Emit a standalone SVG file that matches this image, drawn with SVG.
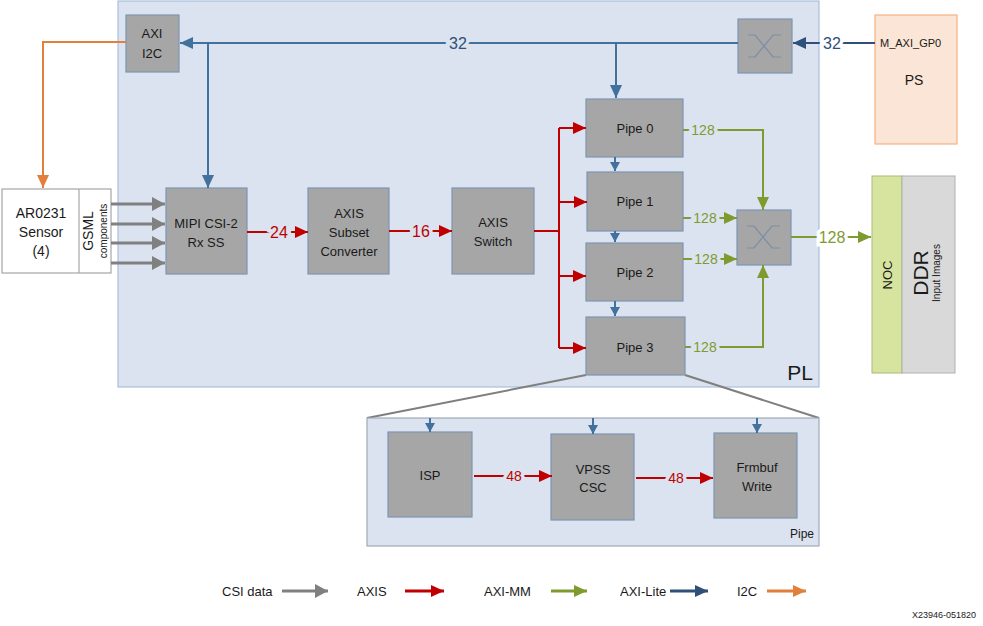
<svg xmlns="http://www.w3.org/2000/svg" width="983" height="626" viewBox="0 0 983 626">
<defs>
<style>
text{font-family:"Liberation Sans",Arial,sans-serif;fill:#1a1a1a}
.blk{fill:#a6a6a6;stroke:#7d95b3;stroke-width:1.2}
.t{font-size:13px;text-anchor:middle}
.lbl{text-anchor:middle;dominant-baseline:central;paint-order:stroke;stroke-width:7px}
.onpl{stroke:#dae3ef}
.onw{stroke:#ffffff}
.blue{stroke:#41719c;stroke-width:2;fill:none}
.red{stroke:#c00000;stroke-width:2;fill:none}
.green{stroke:#7f9b2f;stroke-width:2;fill:none}
.orange{stroke:#e0803a;stroke-width:2;fill:none}
.gray{stroke:#808080;stroke-width:3;fill:none}
.xs{stroke:#7d8ea6;stroke-width:1.2;fill:none}
</style>
<marker id="ab" markerUnits="userSpaceOnUse" markerWidth="14" markerHeight="12" refX="13" refY="6" orient="auto"><path d="M0,0 L13,6 L0,12 z" fill="#41719c"/></marker>
<marker id="abs" markerUnits="userSpaceOnUse" markerWidth="10" markerHeight="10" refX="9" refY="5" orient="auto"><path d="M0,0 L9,5 L0,10 z" fill="#41719c"/></marker>
<marker id="abd" markerUnits="userSpaceOnUse" markerWidth="14" markerHeight="12" refX="13" refY="6" orient="auto"><path d="M0,0 L13,6 L0,12 z" fill="#2f5078"/></marker>
<marker id="ar" markerUnits="userSpaceOnUse" markerWidth="14" markerHeight="12" refX="13" refY="6" orient="auto"><path d="M0,0 L13,6 L0,12 z" fill="#c00000"/></marker>
<marker id="ag" markerUnits="userSpaceOnUse" markerWidth="14" markerHeight="12" refX="13" refY="6" orient="auto"><path d="M0,0 L13,6 L0,12 z" fill="#7f9b2f"/></marker>
<marker id="ao" markerUnits="userSpaceOnUse" markerWidth="14" markerHeight="12" refX="13" refY="6" orient="auto"><path d="M0,0 L13,6 L0,12 z" fill="#e0803a"/></marker>
<marker id="agr" markerUnits="userSpaceOnUse" markerWidth="14" markerHeight="14" refX="13" refY="7" orient="auto"><path d="M0,0 L13,7 L0,14 z" fill="#808080"/></marker>
</defs>
<rect width="983" height="626" fill="#ffffff"/>

<g id="pl">
<rect x="118" y="1" width="701" height="386" fill="#dae3ef" stroke="#a9c0da" stroke-width="1.2"/>
<text x="800" y="380" style="font-size:21px;text-anchor:middle">PL</text>
</g>

<g id="zoom-lines">
<path d="M586,375 L367,418 M685,375 L819,418" stroke="#7f7f7f" stroke-width="2" fill="none"/>
</g>

<g id="pipe-detail">
<rect x="367" y="418" width="452" height="128" fill="#dae3ef" stroke="#9eaab8" stroke-width="1.2"/>
<text x="814" y="538" style="font-size:12px;text-anchor:end">Pipe</text>
</g>

<g id="ps">
<rect x="875" y="15" width="82" height="129" fill="#fbe5d6" stroke="#f4b183" stroke-width="1.2"/>
<text x="880" y="47" style="font-size:11px">M_AXI_GP0</text>
<text x="914" y="85" style="font-size:14px;text-anchor:middle">PS</text>
</g>

<g id="noc">
<rect x="872" y="176" width="30" height="197" fill="#d7e4a0" stroke="#a9b97a" stroke-width="1"/>
<text transform="translate(892,275) rotate(-90)" style="font-size:13px;text-anchor:middle">NOC</text>
</g>
<g id="ddr">
<rect x="902" y="176" width="53" height="197" fill="#d9d9d9" stroke="#b0b0b0" stroke-width="1"/>
<text transform="translate(928,273) rotate(-90)" style="font-size:21px;text-anchor:middle">DDR</text>
<text transform="translate(940,273) rotate(-90)" style="font-size:10px;text-anchor:middle">Input Images</text>
</g>

<g id="sensor">
<rect x="2" y="189" width="109" height="84" fill="#ffffff" stroke="#a6a6a6" stroke-width="1.2"/>
<line x1="79" y1="189" x2="79" y2="273" stroke="#a6a6a6" stroke-width="1.2"/>
<text x="41" y="218" class="t" style="font-size:14px">AR0231</text>
<text x="41" y="237" class="t" style="font-size:14px">Sensor</text>
<text x="41" y="256" class="t" style="font-size:14px">(4)</text>
<text transform="translate(93,231) rotate(-90)" style="font-size:14px;text-anchor:middle">GSML</text>
<text transform="translate(107,231) rotate(-90)" style="font-size:10px;text-anchor:middle">components</text>
</g>

<g id="axi-i2c">
<rect x="126" y="15" width="53" height="57" class="blk"/>
<text x="152" y="38" class="t">AXI</text>
<text x="152" y="58" class="t">I2C</text>
</g>

<g id="interconnect-top">
<rect x="738" y="19" width="54" height="54" class="blk"/>
<path d="M748,35 H755 L773,57 H781 M748,57 H755 L773,35 H781" class="xs"/>
</g>

<g id="interconnect-mm">
<rect x="737" y="210" width="54" height="55" class="blk"/>
<path d="M747,226 H754 L772,248 H780 M747,248 H754 L772,226 H780" class="xs"/>
</g>

<g id="mipi">
<rect x="166" y="188" width="81" height="86" class="blk"/>
<text x="206" y="228" class="t">MIPI CSI-2</text>
<text x="206" y="247" class="t">Rx SS</text>
</g>
<g id="subset">
<rect x="308" y="188" width="81" height="86" class="blk"/>
<text x="349" y="218" class="t">AXIS</text>
<text x="349" y="237" class="t">Subset</text>
<text x="349" y="256" class="t">Converter</text>
</g>
<g id="switch">
<rect x="452" y="188" width="82" height="86" class="blk"/>
<text x="493" y="227" class="t">AXIS</text>
<text x="493" y="246" class="t">Switch</text>
</g>

<g id="pipe0"><rect x="586" y="99" width="97" height="58" class="blk"/><text x="635" y="133" class="t">Pipe 0</text></g>
<g id="pipe1"><rect x="587" y="172" width="96" height="59" class="blk"/><text x="635" y="206" class="t">Pipe 1</text></g>
<g id="pipe2"><rect x="586" y="243" width="97" height="58" class="blk"/><text x="635" y="277" class="t">Pipe 2</text></g>
<g id="pipe3"><rect x="586" y="317" width="99" height="58" class="blk"/><text x="635" y="352" class="t">Pipe 3</text></g>

<g id="isp"><rect x="388" y="432" width="84" height="85" class="blk"/><text x="430" y="480" class="t">ISP</text></g>
<g id="vpss"><rect x="551" y="434" width="83" height="86" class="blk"/><text x="593" y="474" class="t">VPSS</text><text x="593" y="492" class="t">CSC</text></g>
<g id="frmbuf"><rect x="714" y="433" width="83" height="85" class="blk"/><text x="757" y="472" class="t">Frmbuf</text><text x="757" y="491" class="t">Write</text></g>

<g id="connectors">
<!-- AXI-Lite -->
<path d="M875,43 H793" class="blue" style="stroke:#2f5078" marker-end="url(#abd)"/>
<text x="832" y="43" class="lbl onw" style="font-size:16px;fill:#2f5078">32</text>
<path d="M738,43 H180" class="blue" marker-end="url(#ab)"/>
<text x="458" y="43" class="lbl onpl" style="font-size:16px;fill:#2f5078">32</text>
<path d="M208,43 V188" class="blue" marker-end="url(#ab)"/>
<path d="M616,43 V98" class="blue" marker-end="url(#ab)"/>
<path d="M615,157 V171" class="blue" marker-end="url(#abs)"/>
<path d="M615,231 V242" class="blue" marker-end="url(#abs)"/>
<path d="M615,301 V316" class="blue" marker-end="url(#abs)"/>
<path d="M430,418 V432" class="blue" marker-end="url(#abs)"/>
<path d="M593,418 V434" class="blue" marker-end="url(#abs)"/>
<path d="M757,418 V433" class="blue" marker-end="url(#abs)"/>
<!-- I2C -->
<path d="M126,42 H43 V188" class="orange" marker-end="url(#ao)"/>
<!-- CSI data -->
<path d="M111,204 H165" class="gray" marker-end="url(#agr)"/>
<path d="M111,224 H165" class="gray" marker-end="url(#agr)"/>
<path d="M111,243 H165" class="gray" marker-end="url(#agr)"/>
<path d="M111,263 H165" class="gray" marker-end="url(#agr)"/>
<!-- AXIS -->
<path d="M247,232 H308" class="red" marker-end="url(#ar)"/>
<text x="279" y="232" class="lbl onpl" style="font-size:16px;fill:#c00000">24</text>
<path d="M389,231 H452" class="red" marker-end="url(#ar)"/>
<text x="421" y="231" class="lbl onpl" style="font-size:16px;fill:#c00000">16</text>
<path d="M534,231 H559" class="red"/>
<path d="M559,128 V348" class="red"/>
<path d="M559,128 H586" class="red" marker-end="url(#ar)"/>
<path d="M559,202 H587" class="red" marker-end="url(#ar)"/>
<path d="M559,276 H586" class="red" marker-end="url(#ar)"/>
<path d="M559,348 H586" class="red" marker-end="url(#ar)"/>
<path d="M474,476 H552" class="red" marker-end="url(#ar)"/>
<text x="514" y="476" class="lbl onpl" style="font-size:14px;fill:#c00000">48</text>
<path d="M636,478 H713" class="red" marker-end="url(#ar)"/>
<text x="676" y="478" class="lbl onpl" style="font-size:14px;fill:#c00000">48</text>
<!-- AXI-MM -->
<path d="M683,130 H763 V210" class="green" marker-end="url(#ag)"/>
<text x="703" y="130" class="lbl onpl" style="font-size:14px;fill:#7f9b2f">128</text>
<path d="M683,218 H737" class="green" marker-end="url(#ag)"/>
<text x="705" y="218" class="lbl onpl" style="font-size:14px;fill:#7f9b2f">128</text>
<path d="M683,259 H737" class="green" marker-end="url(#ag)"/>
<text x="706" y="259" class="lbl onpl" style="font-size:14px;fill:#7f9b2f">128</text>
<path d="M685,347 H763 V265" class="green" marker-end="url(#ag)"/>
<text x="705" y="347" class="lbl onpl" style="font-size:14px;fill:#7f9b2f">128</text>
<path d="M791,237 H871" class="green" marker-end="url(#ag)"/>
<text x="832" y="237" class="lbl onw" style="font-size:16px;fill:#7f9b2f">128</text>
</g>

<g id="legend">
<text x="222" y="596" style="font-size:13px">CSI data</text>
<path d="M282,591 H328" class="gray" marker-end="url(#agr)"/>
<text x="357" y="596" style="font-size:13px">AXIS</text>
<path d="M405,591 H444" class="red" style="stroke-width:3" marker-end="url(#ar)"/>
<text x="484" y="596" style="font-size:13px">AXI-MM</text>
<path d="M551,591 H587" class="green" style="stroke-width:3" marker-end="url(#ag)"/>
<text x="620" y="596" style="font-size:13px">AXI-Lite</text>
<path d="M670,591 H708" class="blue" style="stroke:#2f5078;stroke-width:3" marker-end="url(#abd)"/>
<text x="737" y="596" style="font-size:13px">I2C</text>
<path d="M767,591 H806" class="orange" style="stroke-width:3" marker-end="url(#ao)"/>
<text x="944" y="618" style="font-size:9px;text-anchor:middle">X23946-051820</text>
</g>
</svg>
